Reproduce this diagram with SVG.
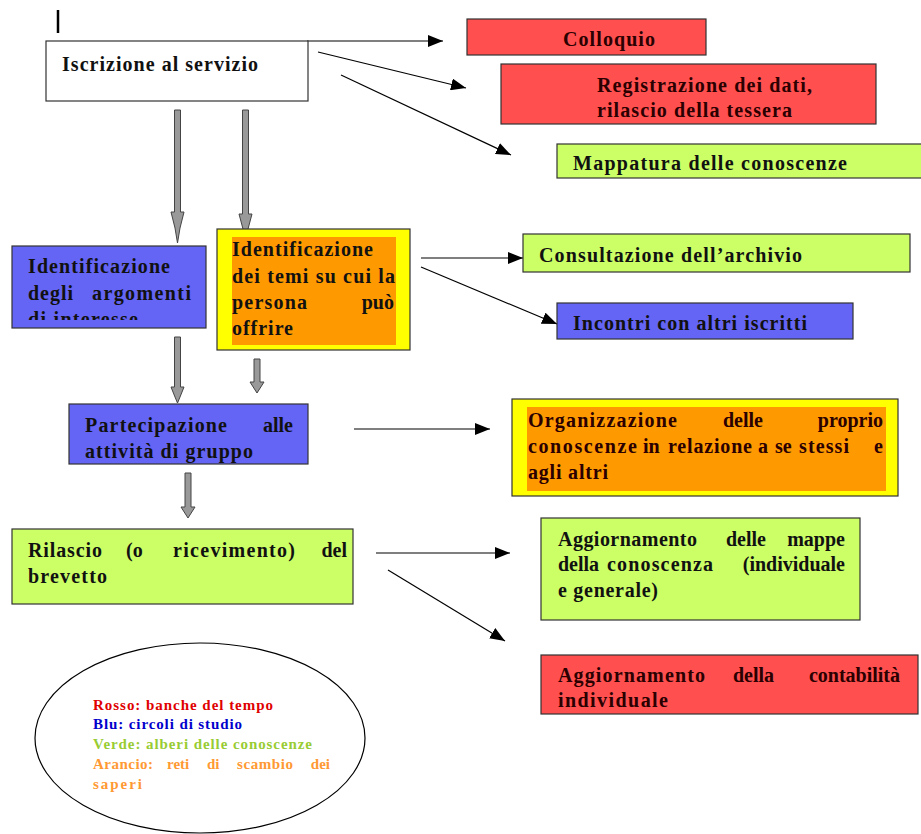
<svg xmlns="http://www.w3.org/2000/svg" width="921" height="834" viewBox="0 0 921 834">
<style>
.t{font-family:"Liberation Serif","Times New Roman",serif;font-weight:bold;font-size:20px;fill:#111}
.dr{fill:#2a0000}
.box{stroke:#333;stroke-width:1.2}
.red{fill:#ff4f4f}.blue{fill:#6464f5}.green{fill:#ccff66}.yellow{fill:#ffff00}.orange{fill:#ff9900}.white{fill:#fff}
.ln{stroke:#000;stroke-width:1.2;fill:none}
.ga{fill:#999;stroke:#444;stroke-width:1}
.lg{font-family:"Liberation Serif","Times New Roman",serif;font-weight:bold;font-size:15px}
.e{text-anchor:end}
</style>
<defs>
<marker id="ah" markerUnits="userSpaceOnUse" markerWidth="16" markerHeight="12" refX="15" refY="6" orient="auto">
<path d="M0,0 L15,6 L0,12 Z" fill="#000"/>
</marker>
<clipPath id="cMap"><rect x="557" y="144" width="364" height="34"/></clipPath>
<clipPath id="cBlue1"><rect x="12" y="246" width="194" height="74"/></clipPath>
<clipPath id="cPart"><rect x="69" y="404" width="239" height="59"/></clipPath>
</defs>
<rect width="921" height="834" fill="#fff"/>
<line x1="58" y1="10" x2="58" y2="33" stroke="#000" stroke-width="2.5"/>

<g id="connectors">
<line class="ln" x1="307" y1="41" x2="443" y2="41" marker-end="url(#ah)"/>
<line class="ln" x1="318" y1="52" x2="466" y2="88" marker-end="url(#ah)"/>
<line class="ln" x1="341" y1="75" x2="511" y2="155" marker-end="url(#ah)"/>
<line class="ln" x1="421" y1="258" x2="523" y2="258" marker-end="url(#ah)"/>
<line class="ln" x1="421" y1="267" x2="557" y2="324" marker-end="url(#ah)"/>
<line class="ln" x1="354" y1="429" x2="490" y2="429" marker-end="url(#ah)"/>
<line class="ln" x1="376" y1="553" x2="510" y2="553" marker-end="url(#ah)"/>
<line class="ln" x1="388" y1="570" x2="505" y2="641" marker-end="url(#ah)"/>
<path class="ga" d="M174.5,110 H180.5 V212 H184 L180,228 L177.5,243 L175,228 L171,212 H174.5 Z"/>
<path class="ga" d="M242.5,110 H248.5 V214 H252 L248,229 L245.5,240 L243,229 L239,214 H242.5 Z"/>
<path class="ga" d="M174.5,337 H180.5 V387 H184 L180,397 L177.5,403 L175,397 L171,387 H174.5 Z"/>
<path class="ga" d="M254,359 H260 V382 H264 L257,393 L250,382 H254 Z"/>
<path class="ga" d="M185,473 H191 V507 H195 L188,518 L181,507 H185 Z"/>
</g>

<g id="iscrizione">
<rect class="box white" x="46" y="41" width="262" height="60"/>
<text class="t" x="62" y="71" textLength="196" lengthAdjust="spacing">Iscrizione al servizio</text>
</g>
<g id="colloquio">
<rect class="box red" x="467" y="19" width="239" height="36"/>
<text class="t dr" x="563" y="46" textLength="92" lengthAdjust="spacing">Colloquio</text>
</g>
<g id="registrazione">
<rect class="box red" x="501" y="64" width="375" height="60"/>
<text class="t dr" x="597" y="92" textLength="215" lengthAdjust="spacing">Registrazione dei dati,</text>
<text class="t dr" x="597" y="117" textLength="195" lengthAdjust="spacing">rilascio della tessera</text>
</g>
<g id="mappatura">
<rect class="box green" x="557" y="144" width="370" height="34"/>
<text class="t" x="573" y="170" textLength="274" lengthAdjust="spacing" clip-path="url(#cMap)">Mappatura delle conoscenze</text>
</g>

<g id="argomenti">
<rect class="box blue" x="12" y="246" width="194" height="82"/>
<g clip-path="url(#cBlue1)">
<text class="t" x="28" y="273" textLength="142" lengthAdjust="spacing">Identificazione</text>
<text class="t" x="28" y="300" textLength="45" lengthAdjust="spacing">degli</text>
<text class="t" x="92" y="300" textLength="99" lengthAdjust="spacing">argomenti</text>
<text class="t" x="28" y="326" textLength="110" lengthAdjust="spacing">di interesse</text>
</g>
</g>
<g id="temi">
<rect class="box yellow" x="217" y="229" width="193" height="121"/>
<rect class="orange" x="232" y="237" width="164" height="108"/>
<text class="t" x="232" y="256" textLength="141" lengthAdjust="spacing">Identificazione</text>
<text class="t" x="232" y="283" textLength="163" lengthAdjust="spacing">dei temi su cui la</text>
<text class="t" x="232" y="309" textLength="75" lengthAdjust="spacing">persona</text>
<text class="t e" x="394" y="309">può</text>
<text class="t" x="232" y="335" textLength="61" lengthAdjust="spacing">offrire</text>
</g>

<g id="consultazione">
<rect class="box green" x="523" y="234" width="387" height="38"/>
<text class="t" x="539" y="262" textLength="263" lengthAdjust="spacing">Consultazione dell’archivio</text>
</g>
<g id="incontri">
<rect class="box blue" x="557" y="303" width="296" height="36"/>
<text class="t" x="573" y="330" textLength="234" lengthAdjust="spacing">Incontri con altri iscritti</text>
</g>

<g id="partecipazione">
<rect class="box blue" x="69" y="404" width="239" height="60"/>
<g clip-path="url(#cPart)">
<text class="t" x="85" y="432" textLength="142" lengthAdjust="spacing">Partecipazione</text>
<text class="t e" x="293" y="432">alle</text>
<text class="t" x="85" y="458" textLength="168" lengthAdjust="spacing">attività di gruppo</text>
</g>
</g>
<g id="organizzazione">
<rect class="box yellow" x="512" y="399" width="386" height="97"/>
<rect class="orange" x="527" y="407" width="359" height="84"/>
<text class="t dr" x="528" y="427" textLength="149" lengthAdjust="spacing">Organizzazione</text>
<text class="t dr" x="723" y="427">delle</text>
<text class="t dr e" x="883" y="427">proprio</text>
<text class="t dr" x="528" y="453" textLength="109" lengthAdjust="spacing">conoscenze</text>
<text class="t dr" x="643" y="453">in</text>
<text class="t dr" x="668" y="453" textLength="84" lengthAdjust="spacing">relazione</text>
<text class="t dr" x="758" y="453">a</text>
<text class="t dr" x="775" y="453">se</text>
<text class="t dr" x="799" y="453" textLength="50" lengthAdjust="spacing">stessi</text>
<text class="t dr e" x="883" y="453">e</text>
<text class="t dr" x="528" y="479" textLength="80" lengthAdjust="spacing">agli altri</text>
</g>

<g id="rilascio">
<rect class="box green" x="12" y="529" width="341" height="75"/>
<text class="t" x="28" y="557" textLength="74" lengthAdjust="spacing">Rilascio</text>
<text class="t" x="126" y="557">(o</text>
<text class="t" x="173" y="557" textLength="122" lengthAdjust="spacing">ricevimento)</text>
<text class="t e" x="347" y="557">del</text>
<text class="t" x="28" y="583" textLength="79" lengthAdjust="spacing">brevetto</text>
</g>
<g id="mappe">
<rect class="box green" x="541" y="518" width="319" height="102"/>
<text class="t" x="558" y="546" textLength="139" lengthAdjust="spacing">Aggiornamento</text>
<text class="t" x="726" y="546">delle</text>
<text class="t e" x="845" y="546">mappe</text>
<text class="t" x="558" y="571">della</text>
<text class="t" x="607" y="571" textLength="106" lengthAdjust="spacing">conoscenza</text>
<text class="t e" x="845" y="571">(individuale</text>
<text class="t" x="558" y="597" textLength="100" lengthAdjust="spacing">e generale)</text>
</g>
<g id="contabilita">
<rect class="box red" x="541" y="655" width="377" height="59"/>
<text class="t dr" x="558" y="682" textLength="147" lengthAdjust="spacing">Aggiornamento</text>
<text class="t dr" x="733" y="682">della</text>
<text class="t dr e" x="900" y="682">contabilità</text>
<text class="t dr" x="558" y="707" textLength="110" lengthAdjust="spacing">individuale</text>
</g>

<g id="legenda">
<ellipse cx="200" cy="738" rx="165" ry="95" fill="#fff" stroke="#000" stroke-width="1.2"/>
<text class="lg" x="93" y="710" fill="#e00000" textLength="180" lengthAdjust="spacing">Rosso: banche del tempo</text>
<text class="lg" x="93" y="729" fill="#0000cc" textLength="149" lengthAdjust="spacing">Blu: circoli di studio</text>
<text class="lg" x="93" y="749" fill="#99cc33" textLength="219" lengthAdjust="spacing">Verde: alberi delle conoscenze</text>
<text class="lg" x="93" y="769" fill="#ff9933" textLength="60" lengthAdjust="spacing">Arancio:</text>
<text class="lg" x="167" y="769" fill="#ff9933">reti</text>
<text class="lg" x="207" y="769" fill="#ff9933">di</text>
<text class="lg" x="237" y="769" fill="#ff9933" textLength="56" lengthAdjust="spacing">scambio</text>
<text class="lg e" x="330" y="769" fill="#ff9933">dei</text>
<text class="lg" x="93" y="789" fill="#ff9933" textLength="49" lengthAdjust="spacing">saperi</text>
</g>
</svg>
